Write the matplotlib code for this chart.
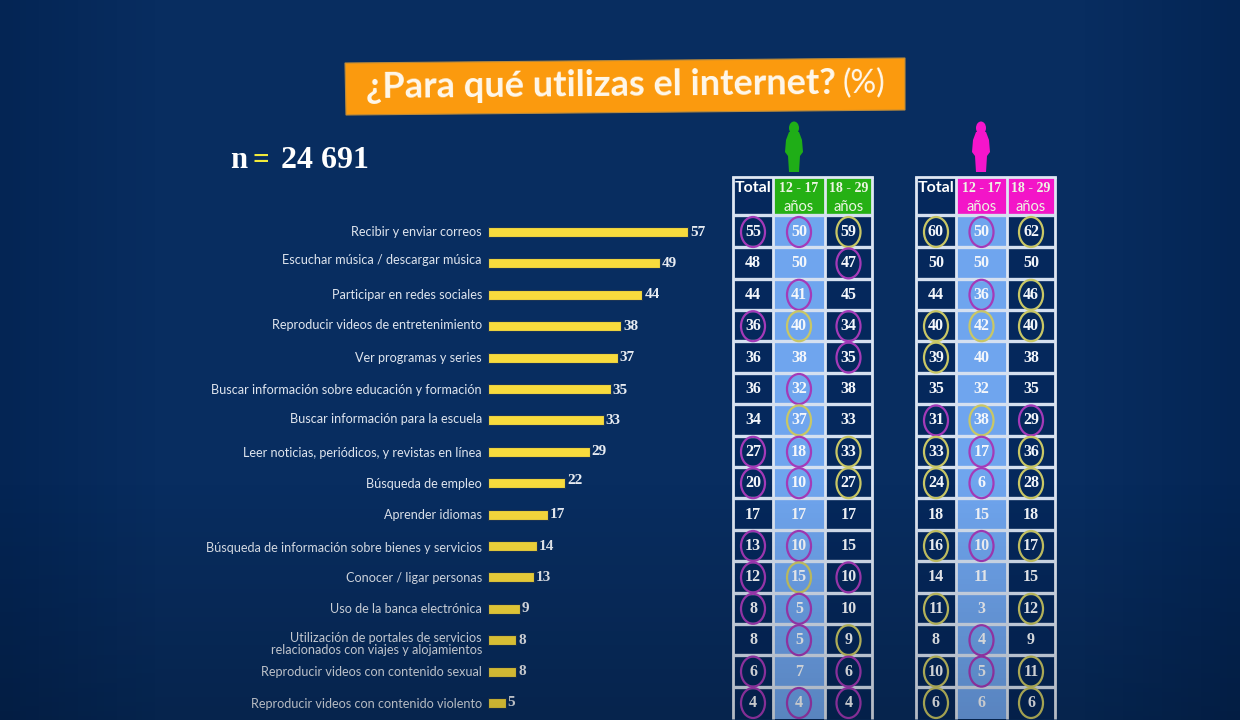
"""Barras de usos de internet y tablas por sexo y edad."""

import numpy as np
import matplotlib
matplotlib.use('Agg')
import matplotlib.pyplot as plt
from matplotlib.patches import Ellipse, Polygon, Rectangle

W, H = 1240, 720

usos = [
    'Recibir y enviar correos',
    'Escuchar música / descargar música',
    'Participar en redes sociales',
    'Reproducir videos de entretenimiento',
    'Ver programas y series',
    'Buscar información sobre educación y formación',
    'Buscar información para la escuela',
    'Leer noticias, periódicos, y revistas en línea',
    'Búsqueda de empleo',
    'Aprender idiomas',
    'Búsqueda de información sobre bienes y servicios',
    'Conocer / ligar personas',
    'Uso de la banca electrónica',
    'Utilización de portales de servicios\nrelacionados con viajes y alojamientos',
    'Reproducir videos con contenido sexual',
    'Reproducir videos con contenido violento',
]
total = [57, 49, 44, 38, 37, 35, 33, 29, 22, 17, 14, 13, 9, 8, 8, 5]

hombres_total = [55, 48, 44, 36, 36, 36, 34, 27, 20, 17, 13, 12, 8, 8, 6, 4]
hombres_12_17 = [50, 50, 41, 40, 38, 32, 37, 18, 10, 17, 10, 15, 5, 5, 7, 4]
hombres_18_29 = [59, 47, 45, 34, 35, 38, 33, 33, 27, 17, 15, 10, 10, 9, 6, 4]
mujeres_total = [60, 50, 44, 40, 39, 35, 31, 33, 24, 18, 16, 14, 11, 8, 10, 6]
mujeres_12_17 = [50, 50, 36, 42, 40, 32, 38, 17, 6, 15, 10, 11, 3, 4, 5, 6]
mujeres_18_29 = [62, 50, 46, 40, 38, 35, 29, 36, 28, 18, 17, 15, 12, 9, 11, 6]

# círculos: p = morado (por debajo), y = amarillo (por encima), . = sin marca
marcas_h_total = 'p..p...pp.ppp.pp'
marcas_h_12_17 = 'p.py.pypp.pypp.p'
marcas_h_18_29 = 'yp.pp..yy..p.ypp'
marcas_m_total = 'y..yy.pyy.y.y.yy'
marcas_m_12_17 = 'p.py..ypp.p..pp.'
marcas_m_18_29 = 'y.yy..pyy.y.y.yy'

# ajuste vertical de cada etiqueta respecto a su barra
ajuste_etiqueta = [0, -3, 0, -1, 0, 1, -1, 1, 1, 0, 2, 1, 0, 4, 0, 1]
ajuste_valor = [0, 0, 0, 0, 0, 1, 0, 0, -2, 0, 0, 0, 0, 0, 0, 0]

FILA_0, PASO = 232, 31.4
SANS = 'Lato'
SERIF = 'Liberation Serif'
MORADO = '#a43ab8'
AMARILLO = '#c9c765'


def fila_y(i):
    return FILA_0 + PASO * i


def silueta(ax, cx, color):
    # cabeza, vestido y piernas de la figura sobre cada tabla
    ax.add_patch(Ellipse((cx, 128), 10, 13, color=color, lw=0))
    ax.add_patch(Polygon([
        (cx - 5, 132), (cx + 5, 132), (cx + 8, 140), (cx + 9, 152), (cx + 6, 156),
        (cx + 5, 172), (cx - 5, 172), (cx - 6, 156), (cx - 9, 152), (cx - 8, 140),
    ], closed=True, color=color, lw=0, joinstyle='round'))


def tabla(ax, bordes, columnas, marcas, color_cab):
    x0, x1, x2, x3 = bordes
    top, cab = 177, 215
    n = len(columnas[0])
    fin = fila_y(n - 1) + PASO / 2

    ax.add_patch(Rectangle((x0, cab), x3 - x0, fin - cab, color='#05285c', lw=0, zorder=2))
    ax.add_patch(Rectangle((x1, cab), x2 - x1, fin - cab, color='#6fa5ee', lw=0, zorder=2))
    ax.add_patch(Rectangle((x0, top), x1 - x0, cab - top, color='#05285c', lw=0, zorder=2))
    ax.add_patch(Rectangle((x1, top), x3 - x1, cab - top, color=color_cab, lw=0, zorder=2))

    # retícula blanca
    for x in bordes:
        ax.plot([x, x], [top, fin], color='#dfe7f3', lw=2, zorder=3, solid_capstyle='butt')
    ax.plot([x0, x3], [top, top], color='#dfe7f3', lw=2, zorder=3)
    for y in [cab] + [fila_y(i) + PASO / 2 - 0.5 for i in range(n - 1)]:
        ax.plot([x0, x3], [y, y], color='#d5e0f0', lw=2.4, zorder=3, solid_capstyle='butt')

    ax.text((x0 + x1) / 2, 188, 'Total', color='white', fontsize=11.5, fontweight='bold',
            family=SANS, ha='center', va='center', zorder=5)
    for a, b, rango in [(x1, x2, '12 - 17'), (x2, x3, '18 - 29')]:
        ax.text((a + b) / 2, 189, rango, color='#eef5e4', fontsize=10, fontweight='bold',
                family=SERIF, ha='center', va='center', zorder=5)
        ax.text((a + b) / 2, 207, 'años', color='#eef5e4', fontsize=10.5,
                family=SANS, ha='center', va='center', zorder=5)

    centros = [(x0 + x1) / 2, (x1 + x2) / 2, (x2 + x3) / 2]
    for cx, valores, marca in zip(centros, columnas, marcas):
        for i, v in enumerate(valores):
            y = fila_y(i)
            ax.text(cx, y, str(v), color='#f4f7fb', fontsize=11.5, fontweight='bold',
                    family=SERIF, ha='center', va='center', zorder=5)
            if marca[i] != '.':
                color = MORADO if marca[i] == 'p' else AMARILLO
                ax.add_patch(Ellipse((cx, y), 24, 30, fill=False, ec=color, lw=1.6, zorder=4))


def main():
    fig = plt.figure(figsize=(W / 100, H / 100), dpi=100)

    # fondo azul, algo más oscuro hacia los lados
    fondo = fig.add_axes([0, 0, 1, 1])
    xx = np.abs(np.linspace(-1, 1, W))[None, :]
    mezcla = np.clip((xx - 0.75) / 0.25, 0, 1)[..., None]
    img = (1 - mezcla) * np.array([8, 45, 96]) / 255 + mezcla * np.array([4, 37, 84]) / 255
    fondo.imshow(img, aspect='auto', extent=[0, W, H, 0], zorder=0)
    fondo.set_xlim(0, W)
    fondo.set_ylim(H, 0)
    fondo.axis('off')

    # barras en su propia escala
    x_barra, px_por_unidad = 488, 200 / 57
    ax = fig.add_axes([x_barra / W, 0, 1 - x_barra / W, 1])
    ax.patch.set_alpha(0)
    ax.set_xlim(0, (W - x_barra) / px_por_unidad)
    ax.set_ylim((H - FILA_0) / PASO, -FILA_0 / PASO)
    ax.axis('off')
    pos = np.arange(len(total))
    ax.barh(pos, total, height=0.32, color='#f8db3d', edgecolor='#1c3558', linewidth=0.8, zorder=3)
    for i, v in enumerate(total):
        ax.annotate(str(v), (v, i), xytext=(1.5, -ajuste_valor[i]), textcoords='offset points',
                    color='#e8ecf2', fontsize=11, fontweight='bold', family=SERIF,
                    va='center', ha='left')

    # capa en píxeles para textos y tablas
    over = fig.add_axes([0, 0, 1, 1])
    over.patch.set_alpha(0)
    over.set_xlim(0, W)
    over.set_ylim(H, 0)
    over.axis('off')

    for i, texto in enumerate(usos):
        over.text(482, fila_y(i) + ajuste_etiqueta[i], texto, color='#dfe5ee', fontsize=9.1,
                  family=SANS, ha='right', va='center', linespacing=0.95,
                  multialignment='right')

    # banda naranja del título, apenas inclinada
    over.add_patch(Polygon([(345, 63), (905, 58), (905, 110), (346, 115)], closed=True,
                           facecolor='#fb9a0e', edgecolor='#b98a3c', lw=0.8, zorder=2))
    over.text(366, 85, '¿Para qué utilizas el internet?', color='#fff8ec', fontsize=26,
              fontweight='bold', family=SANS, ha='left', va='center', rotation=0.5, zorder=3)
    over.text(842, 84, '(%)', color='#fff8ec', fontsize=23, family=SANS,
              ha='left', va='center', rotation=0.5, zorder=3)

    over.text(230, 160, 'n', color='white', fontsize=22, fontweight='bold', family=SERIF,
              ha='left', va='center')
    over.text(252, 160, '=', color='#f2ea3a', fontsize=21, fontweight='bold', family=SERIF,
              ha='left', va='center')
    over.text(281, 160, '24 691', color='white', fontsize=23, fontweight='bold', family=SERIF,
              ha='left', va='center')

    silueta(over, 794, '#1fae17')
    silueta(over, 981, '#f515cb')

    tabla(over, (733, 773, 825, 872),
          (hombres_total, hombres_12_17, hombres_18_29),
          (marcas_h_total, marcas_h_12_17, marcas_h_18_29), '#25b014')
    tabla(over, (916, 956, 1007, 1055),
          (mujeres_total, mujeres_12_17, mujeres_18_29),
          (marcas_m_total, marcas_m_12_17, marcas_m_18_29), '#f315c8')

    # la parte baja de la lámina se oscurece
    sombra = np.zeros((H, 1, 4))
    sombra[:, 0, 3] = np.clip((np.arange(H) - 480) / 240, 0, 1) * 0.2
    over.imshow(sombra, aspect='auto', extent=[0, W, H, 0], zorder=10)
    over.set_xlim(0, W)
    over.set_ylim(H, 0)

    fig.savefig('out.png', dpi=100)
    plt.close(fig)


if __name__ == '__main__':
    main()
